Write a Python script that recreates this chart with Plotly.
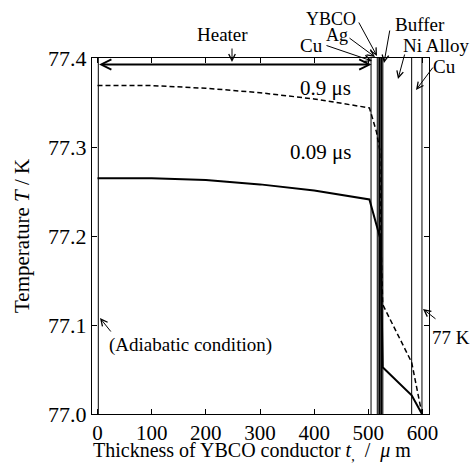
import plotly.graph_objects as go

# ---- data ----
x_009 = [0, 100, 200, 300, 400, 502, 522.5, 526.5, 580, 599]
t_009 = [77.265, 77.265, 77.263, 77.258, 77.251, 77.241, 77.196, 77.0525, 77.021, 77.0]

x_09 = [0, 100, 200, 300, 400, 502, 515, 521, 523, 526.5, 580, 599]
t_09 = [77.369, 77.369, 77.366, 77.361, 77.354, 77.344, 77.317, 77.297, 77.2, 77.123, 77.058, 77.0]

layer_bounds = [1.5, 505, 516.5, 520.3, 524, 526.8, 580, 599]
layer_widths = [1, 1, 1, 2, 2, 1, 1, 1]

x_ticks = [0, 100, 200, 300, 400, 500, 600]
y_ticks = [77.0, 77.1, 77.2, 77.3, 77.4]

x_title = "Thickness of YBCO conductor <i>t</i><sub>,</sub>\u00a0\u00a0/\u00a0\u00a0<i>μ</i>\u00a0m"
y_title = "Temperature <i>T</i> / K"

FONT = "Liberation Serif"

# plot area in pixels (layout)
L, R, T, B = 92, 429, 58, 414
W, H = 476, 464


def paper(px, py):
    return (px - L) / (R - L), (B - py) / (B - T)


fig = go.Figure()
fig.add_trace(go.Scatter(x=x_09, y=t_09, mode="lines", name="0.9 μs",
                         line=dict(color="black", width=1.5, dash="5px,3px")))
fig.add_trace(go.Scatter(x=x_009, y=t_009, mode="lines", name="0.09 μs",
                         line=dict(color="black", width=2)))

shapes = []
for xb, lw in zip(layer_bounds, layer_widths):
    shapes.append(dict(type="line", xref="x", yref="paper", x0=xb, x1=xb, y0=0, y1=1,
                       line=dict(color="black", width=lw)))

annotations = []

# text labels: (text, center px, center py, size)
labels = [
    ("Heater", 222, 35, 19),
    ("YBCO", 331, 19, 18),
    ("Ag", 337, 35, 18),
    ("Cu", 311, 45, 19),
    ("Buffer", 420, 25, 19),
    ("Ni Alloy", 436, 45, 19),
    ("Cu", 444, 66, 19),
    ("(Adiabatic condition)", 190, 345, 19),
    ("77 K", 451, 337, 19),
]
for txt, px, py, sz in labels:
    xp, yp = paper(px, py)
    annotations.append(dict(text=txt, x=xp, y=yp, xref="paper", yref="paper",
                            xanchor="center", yanchor="middle", showarrow=False,
                            font=dict(family=FONT, size=sz, color="black")))

# axis titles
xp, yp = paper(252, 451)
annotations.append(dict(text=x_title, x=xp, y=yp, xref="paper", yref="paper",
                        xanchor="center", yanchor="middle", showarrow=False,
                        font=dict(family=FONT, size=20, color="black")))
xp, yp = paper(22, 236)
annotations.append(dict(text=y_title, x=xp, y=yp, xref="paper", yref="paper", textangle=-90,
                        xanchor="center", yanchor="middle", showarrow=False,
                        font=dict(family=FONT, size=21, color="black")))

# arrows: tail px, head px
arrows = [
    ((232, 47), (232, 62)),
    ((358, 21), (377, 56)),
    ((348, 37), (375, 57)),
    ((325, 45), (372, 61)),
    ((390, 29), (384, 63)),
    ((405, 53), (398, 79)),
    ((434, 66), (416, 90)),
    ((112, 333), (100, 318)),
    ((437, 320), (423, 309)),
]
for (tx, ty), (hx, hy) in arrows:
    xp, yp = paper(hx, hy)
    annotations.append(dict(text="", x=xp, y=yp, xref="paper", yref="paper",
                            ax=tx - hx, ay=ty - hy, axref="pixel", ayref="pixel",
                            showarrow=True, arrowhead=5, arrowsize=1.3, arrowwidth=1,
                            arrowcolor="black", standoff=0, startstandoff=0))

# heater double arrow
annotations.append(dict(text="", x=506, y=77.3927, xref="x", yref="y",
                        ax=0, ay=77.3927, axref="x", ayref="y",
                        showarrow=True, arrowhead=5, startarrowhead=5, arrowside="end+start",
                        arrowsize=1, startarrowsize=1, arrowwidth=2, arrowcolor="black"))

# curve labels (right edge at about x = 472)
annotations.append(dict(text="0.9 μs", x=472, y=77.366, xref="x", yref="y", showarrow=False,
                        xanchor="right", font=dict(family=FONT, size=21, color="black")))
annotations.append(dict(text="0.09 μs", x=472, y=77.294, xref="x", yref="y", showarrow=False,
                        xanchor="right", font=dict(family=FONT, size=21, color="black")))

fig.update_layout(
    width=W, height=H,
    margin=dict(l=L, r=W - R, t=T, b=H - B, pad=0, autoexpand=False),
    paper_bgcolor="white", plot_bgcolor="white",
    showlegend=False,
    font=dict(family=FONT, size=21, color="black"),
    shapes=shapes,
    annotations=annotations,
    xaxis=dict(range=[-10.15, 612], tickvals=x_ticks, ticktext=[str(v) for v in x_ticks],
               ticks="inside", ticklen=5, tickwidth=1, tickcolor="black",
               showline=True, linecolor="black", linewidth=1, mirror="ticks",
               showgrid=False, zeroline=False, automargin=False,
               tickfont=dict(family=FONT, size=21)),
    yaxis=dict(range=[77.0, 77.4], tickvals=y_ticks, ticktext=[f"{v:.1f}" for v in y_ticks],
               ticks="inside", ticklen=5, tickwidth=1, tickcolor="black",
               showline=True, linecolor="black", linewidth=1, mirror="ticks",
               showgrid=False, zeroline=False, automargin=False,
               tickfont=dict(family=FONT, size=22)),
)

fig.write_html("out.html")
